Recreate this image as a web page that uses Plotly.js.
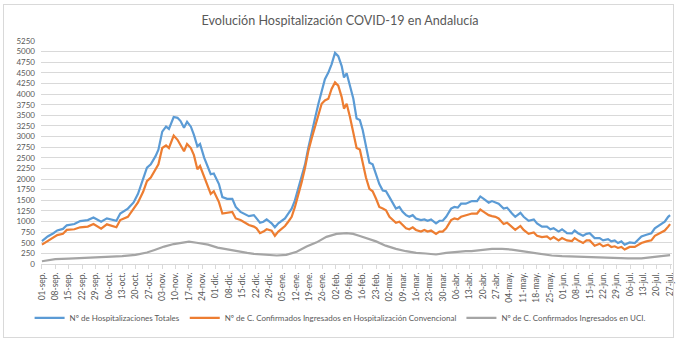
<!DOCTYPE html>
<html>
<head>
<meta charset="utf-8">
<script src="https://cdn.plot.ly/plotly-3.0.1.min.js"></script>
<style>
  body { margin: 0; background: #fff; }
  #wrap { position: relative; width: 680px; height: 340px; }
  #chart { width: 680px; height: 340px; }
  #frame { position: absolute; left: 3px; top: 4px; width: 669px; height: 332px; border: 1px solid #d9d9d9; pointer-events: none; }
</style>
</head>
<body>
<div id="wrap"><div id="chart"></div><div id="frame"></div></div>
<script>
// Days since 01-sep (2020)
const dias = [0,3,6,8,11,13,17,20,24,27,31,34,39,41,45,48,50.3,53,55,57,59.5,61,63,65,66.5,69,71,72.6,74.4,76,78,79.6,81.4,82.8,85,88.4,90,92.7,94.5,97,99.7,101.5,104,108.4,111,112.4,114.2,116,117.7,120.3,122,123.8,125.5,127.3,129,130.8,132.5,134.3,136,137.8,139.5,141.3,143,144.8,146.5,148.2,150,151.7,153.5,155.2,157,158.2,159.6,161.3,163.1,164.8,166.5,168,169.7,171.5,173.2,175,176.7,178.5,180.2,182,183.7,185.4,187.2,188.9,190.7,192.4,194.2,195.9,198.5,200.3,202,203.8,206.4,208.2,209.9,211.7,214.3,216,217.8,219.5,222,225.2,227.9,229.6,231.4,234,235.7,237.5,239.2,241.8,243.6,246.2,247.9,250.6,252.3,254.9,257.6,259.3,261.9,264.5,266.3,268,270.6,272.4,275,277.6,279,280.8,283.4,285.2,286.9,289.5,292.1,293.9,296.5,298.2,300,301.7,303.5,305.2,307.8,310.5,312.2,314,316.6,319.2,321,323.6,326.2,328,329];

const totales = [540,648,725,790,826,911,941,1011,1034,1096,995,1073,1018,1188,1304,1450,1651,2000,2268,2346,2539,2693,3117,3233,3179,3460,3441,3364,3210,3349,3233,3040,2770,2824,2500,2114,2130,1883,1574,1535,1535,1343,1227,1127,1150,1073,972,995,1050,957,864,957,1018,1073,1188,1304,1497,1767,2037,2346,2731,3117,3426,3773,4082,4352,4506,4700,4969,4892,4660,4390,4491,4198,3889,3426,3387,3156,2809,2385,2346,2114,1883,1728,1713,1574,1420,1304,1343,1227,1150,1111,1150,1073,1034,1050,1018,1050,957,1018,1018,1111,1304,1343,1327,1420,1420,1481,1481,1590,1535,1443,1481,1450,1420,1304,1327,1188,1111,1204,1111,1018,1050,957,880,880,818,841,764,818,725,720,787,725,664,710,725,610,610,556,586,532,556,494,532,455,509,494,571,648,687,725,841,918,995,1111,1150];

const convencional = [455,532,610,680,710,802,818,864,880,941,833,934,864,1034,1111,1290,1450,1700,1950,2037,2230,2346,2731,2793,2731,3025,2924,2809,2654,2824,2731,2562,2230,2307,2037,1651,1713,1458,1188,1204,1227,1073,1034,918,880,841,725,764,818,785,664,764,818,895,995,1111,1343,1613,1921,2268,2654,2963,3233,3542,3773,3850,3889,4120,4275,4198,3929,3657,3773,3465,3117,2731,2693,2346,2037,1767,1713,1535,1343,1304,1265,1111,1050,972,995,918,841,818,864,802,764,802,764,787,710,764,764,841,1034,1073,1050,1111,1150,1188,1188,1281,1227,1150,1127,1111,1073,941,972,880,802,895,802,710,741,664,633,648,586,633,556,610,556,540,610,556,494,556,556,432,478,417,455,401,417,378,401,340,401,401,455,494,532,556,664,725,787,880,941];

const diasUci = [0,7,14,21,28,35,42,49,55,59,64,69,73,77,81,87,92,97,102,107.5,111,116,123,128,133.4,138.6,143.9,149,154.3,159.6,163,166.5,170,175,180,185.4,190.7,196,201,206.4,211.7,217,222,225,230.5,235.7,241,246,251.4,256.6,262,267,272.4,277.6,286,296.5,307,314,321,329];
const uci = [65,115,125,140,165,165,185,215,270,330,410,470,505,525,500,455,385,340,300,262,239,224,200,215,290,410,509,640,710,725,710,660,610,532,432,355,301,262,247,224,262,285,301,301,324,355,355,340,301,262,224,200,185,175,165,147,131,131,165,210];

const etiquetas = ["01-sep.","08-sep.","15-sep.","22-sep.","29-sep.","06-oct.","13-oct.","20-oct.","27-oct.","03-nov.","10-nov.","17-nov.","24-nov.","01-dic.","08-dic.","15-dic.","22-dic.","29-dic.","05-ene.","12-ene.","19-ene.","26-ene.","02-feb.","09-feb.","16-feb.","23-feb.","02-mar.","09-mar.","16-mar.","23-mar.","30-mar.","06-abr.","13-abr.","20-abr.","27-abr.","04-may.","11-may.","18-may.","25-may.","01-jun.","08-jun.","15-jun.","22-jun.","29-jun.","06-jul.","13-jul.","20-jul.","27-jul."];
const posEtiquetas = etiquetas.map((_, i) => i * 7);

const nombres = ["Nº de Hospitalizaciones Totales", "Nº de C. Confirmados Ingresados en Hospitalización Convencional", "Nº de C. Confirmados Ingresados en UCI."];
const colores = ["#5B9BD5", "#ED7D31", "#A5A5A5"];

const font = "Lato, 'Open Sans', sans-serif";

const traces = [
  {x: dias, y: totales, name: nombres[0], type: "scatter", mode: "lines", line: {color: colores[0], width: 2.2}},
  {x: dias, y: convencional, name: nombres[1], type: "scatter", mode: "lines", line: {color: colores[1], width: 2.2}},
  {x: diasUci, y: uci, name: nombres[2], type: "scatter", mode: "lines", line: {color: colores[2], width: 2.2}}
];

const layout = {
  width: 680, height: 340,
  margin: {l: 41, r: 8, t: 41, b: 72},
  paper_bgcolor: "#fff", plot_bgcolor: "#fff",
  font: {family: font, size: 8, color: "#595959"},
  title: {text: "Evolución Hospitalización COVID-19 en Andalucía", font: {family: font, size: 12.6, color: "#595959"}, x: 0.5, xanchor: "center", y: 0.94, yanchor: "middle", yref: "container"},
  xaxis: {
    range: [-0.5, 330], tickmode: "array", tickvals: posEtiquetas, ticktext: etiquetas,
    tickangle: -90, showgrid: false, zeroline: false, showline: true, linecolor: "#d9d9d9", linewidth: 1,
    ticks: "outside", ticklen: 4, tickcolor: "#d9d9d9", tickfont: {size: 8.5, color: "#595959"}
  },
  yaxis: {
    range: [0, 5250], tickmode: "linear", tick0: 0, dtick: 250, showgrid: true, gridcolor: "#d9d9d9", gridwidth: 1,
    zeroline: false, showline: false, ticks: "", tickfont: {size: 8, color: "#595959"}, ticklabelstandoff: 5
  },
  showlegend: true,
  legend: {orientation: "h", x: 0.474, xanchor: "center", y: -0.242, yanchor: "middle", font: {size: 8, color: "#595959"}, itemwidth: 30, tracegroupgap: 0, bgcolor: "rgba(0,0,0,0)"}
};

Plotly.newPlot("chart", traces, layout, {displayModeBar: false, staticPlot: true});
</script>
</body>
</html>
